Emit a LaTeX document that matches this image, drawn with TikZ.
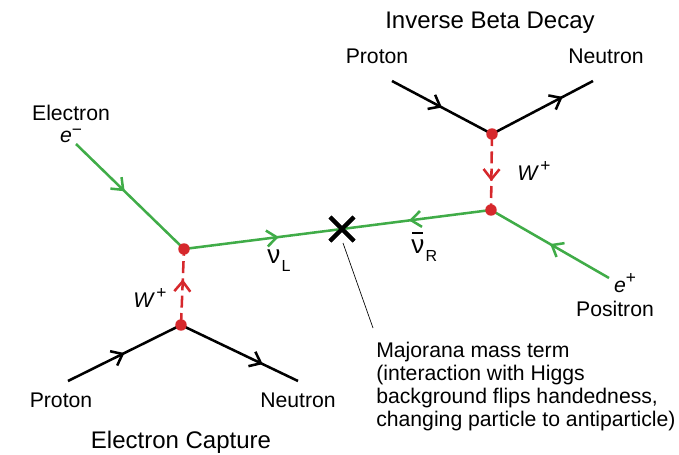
\documentclass[tikz,border=0pt]{standalone}
\usepackage{fontspec}
\setmainfont{Liberation Sans}
\usetikzlibrary{arrows.meta,decorations.markings,shapes.misc}
\definecolor{lepgreen}{RGB}{64,172,72}
\definecolor{bosred}{RGB}{214,40,44}
\newcommand{\bignu}{{\fontsize{19.5}{19.5}\selectfont ν}}
\newcommand{\nubar}{\ooalign{\bignu\cr\hidewidth\raisebox{14.5pt}{\rule{8.5pt}{1.4pt}}\hidewidth\cr}}
\newcommand{\lowsub}[1]{\kern1pt\raisebox{-6.5pt}{\fontsize{12}{12}\selectfont #1}}
\newcommand{\upsup}[2][6.5pt]{\raisebox{#1}{\fontsize{13}{13}\selectfont #2}}
\begin{document}
\begin{tikzpicture}[x=0.75pt,y=-0.75pt,
  every node/.style={font=\fontsize{15.9}{17.25}\selectfont, inner sep=0pt},
  title/.style={font=\fontsize{18}{20}\selectfont},
  prop/.style={line width=1.9pt, postaction={decorate},
    decoration={markings, mark=at position #1 with {\arrow{Straight Barb[length=7.5pt,width=12pt]}}}},
  lepton/.style={prop=#1, draw=lepgreen},
  nucleon/.style={prop=#1, draw=black},
  wboson/.style={prop=#1, draw=bosred, dash pattern=on 9pt off 4pt}]
\useasboundingbox (0,0) rectangle (679,454);
% vertices
\coordinate (ecup) at (184,249);
\coordinate (eclow) at (181,325);
\coordinate (ibdup) at (492,134);
\coordinate (ibdlow) at (491,210);
% free ends
\coordinate (eminus) at (76,144);
\coordinate (pin1) at (68,381);
\coordinate (nout1) at (298,381);
\coordinate (pin2) at (392,81);
\coordinate (nout2) at (593,81);
\coordinate (eplus) at (609,278);
\node[cross out, draw, line width=3pt, minimum size=15pt] (flip) at (342,229) {};
% labels
\node[anchor=south, align=center] (elec) at (71,143) {Electron\\[-0.6pt]\textit{e}\upsup[5.5pt]{−}};
\node[anchor=base, title] (ibd) at (490,28) {Inverse Beta Decay};
\node[anchor=base] (prot2) at (377,63) {Proton};
\node[anchor=base] (neut2) at (606,63) {Neutron};
\node[anchor=base] (w2) at (534,180) {\textit{W}\kern1pt\upsup{+}};
\node[anchor=base] (w1) at (150,307) {\textit{W}\kern1pt\upsup{+}};
\node[anchor=base west] (nul) at (267,263) {\bignu\lowsub{L}};
\node[anchor=base west] (nur) at (411,253) {\nubar\lowsub{R}};
\node[anchor=base] (ep) at (625,292) {\textit{e}\upsup{+}};
\node[anchor=base] (posi) at (615,316) {Positron};
\node[anchor=base] (prot1) at (61,407) {Proton};
\node[anchor=base] (neut1) at (298,407) {Neutron};
\node[anchor=base, title] (ecap) at (181,448) {Electron Capture};
\node[anchor=north west, align=left] (maj) at (376,342) {Majorana mass term\\(interaction with Higgs\\background flips handedness,\\changing particle to antiparticle)};
\coordinate (leadtop) at (343,243);
\coordinate (leadbot) at (373,328);
% propagators
\draw[lepton=0.45] (eminus) -- (ecup);
\draw[lepton=0.6] (ecup) -- (flip.center);
\draw[lepton=0.55] (ibdlow) -- (flip.center);
\draw[lepton=0.5] (eplus) -- (ibdlow);
\draw[nucleon=0.5] (pin1) -- (eclow);
\draw[nucleon=0.7] (eclow) -- (nout1);
\draw[nucleon=0.5] (pin2) -- (ibdup);
\draw[nucleon=0.7] (ibdup) -- (nout2);
\draw[wboson=0.6] (eclow) -- (ecup);
\draw[wboson=0.62] (ibdup) -- (ibdlow);
\node[cross out, draw, line width=3pt, minimum size=15pt] at (flip) {};
\draw[line width=0.5pt] (leadtop) -- (leadbot);
\foreach \v in {ecup,eclow,ibdup,ibdlow}
  \fill[bosred] (\v) circle (4.3pt);
\end{tikzpicture}
\end{document}
